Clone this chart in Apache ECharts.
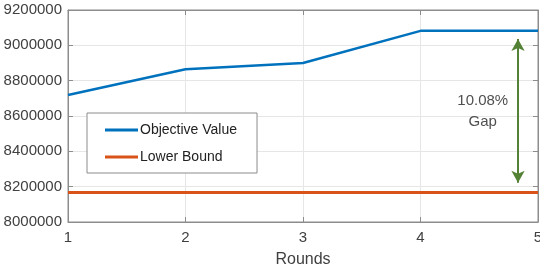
<!DOCTYPE html>
<html><head><meta charset="utf-8">
<script src="https://cdn.jsdelivr.net/npm/echarts@6/dist/echarts.min.js"></script>
<style>html,body{margin:0;padding:0;background:#fff}#c{width:540px;height:269px}</style>
</head><body><div id="c"></div>
<script>
const rounds = [1, 2, 3, 4, 5];
const objectiveValue = [8719000, 8865000, 8900000, 9082000, 9082000];
const lowerBound = [8166500, 8166500, 8166500, 8166500, 8166500];
const gapArrow = [[4.83, 9036000], [4.83, 8222000]];
const gapLabel = { x: 4.53, y: 8628000, text: '10.08%\nGap' };
const yTicks = { min: 8000000, max: 9200000, step: 200000 };

const font = 'Liberation Sans, Arial, sans-serif';
const chart = echarts.init(document.getElementById('c'));
const axisLine = { show: true, lineStyle: { color: '#8c8c8c', width: 1 } };
chart.setOption({
  animation: false,
  grid: { left: 68, right: 2, top: 10, bottom: 47, show: true, borderColor: '#8c8c8c', borderWidth: 1,
          containLabel: false, outerBoundsMode: 'none' },
  xAxis: [{
    type: 'value', min: 1, max: 5, interval: 1,
    name: 'Rounds', nameLocation: 'middle', nameGap: 30,
    nameTextStyle: { fontFamily: font, fontSize: 16, color: '#404040' },
    axisLine, axisTick: { inside: true, length: 5, lineStyle: { color: '#8c8c8c' } },
    axisLabel: { fontFamily: font, fontSize: 15, color: '#404040', margin: 8, hideOverlap: false },
    splitLine: { show: true, lineStyle: { color: '#e6e6e6' } }
  }, {
    type: 'value', position: 'top', min: 1, max: 5, interval: 1,
    axisLine, axisTick: { inside: true, length: 5, lineStyle: { color: '#8c8c8c' } },
    axisLabel: { show: false }, splitLine: { show: false }
  }],
  yAxis: [{
    type: 'value', min: yTicks.min, max: yTicks.max, interval: yTicks.step,
    axisLine, axisTick: { show: true, inside: true, length: 5, lineStyle: { color: '#8c8c8c' } },
    axisLabel: { fontFamily: font, fontSize: 15, color: '#404040', margin: 6, formatter: v => String(v) },
    splitLine: { show: true, lineStyle: { color: '#e6e6e6' } }
  }, {
    type: 'value', position: 'right', min: yTicks.min, max: yTicks.max, interval: yTicks.step,
    axisLine, axisTick: { show: true, inside: true, length: 5, lineStyle: { color: '#8c8c8c' } },
    axisLabel: { show: false }, splitLine: { show: false }
  }],
  legend: {
    orient: 'vertical', left: 87, top: 113,
    padding: [10, 20, 9, 18], itemGap: 13,
    borderColor: '#8c8c8c', borderWidth: 1, backgroundColor: '#fff',
    itemWidth: 33, itemHeight: 3,
    icon: 'path://M0,0 L33,0 L33,3 L0,3 Z',
    textStyle: { fontFamily: font, fontSize: 14, color: '#222', padding: [0, 0, 0, -3] },
    data: ['Objective Value', 'Lower Bound']
  },
  series: [{
    name: 'Objective Value', type: 'line', showSymbol: false, symbol: 'none',
    data: rounds.map((r, i) => [r, objectiveValue[i]]),
    lineStyle: { color: '#0072BD', width: 2.5 }, itemStyle: { color: '#0072BD' }, z: 3
  }, {
    name: 'Lower Bound', type: 'line', showSymbol: false, symbol: 'none',
    data: rounds.map((r, i) => [r, lowerBound[i]]),
    lineStyle: { color: '#D95319', width: 3 }, itemStyle: { color: '#D95319' }, z: 3,
    markLine: {
      silent: true, symbol: ['arrow', 'arrow'], symbolSize: [10, 12],
      label: { show: false },
      lineStyle: { color: '#548235', width: 2, type: 'solid' },
      data: [[{ coord: gapArrow[0] }, { coord: gapArrow[1] }]]
    }
  }, {
    name: 'gap', type: 'scatter', symbolSize: 0,
    data: [[gapLabel.x, gapLabel.y]],
    label: { show: true, position: 'inside', formatter: gapLabel.text,
      fontFamily: font, fontSize: 15, color: '#222', lineHeight: 21, align: 'center' },
    silent: true
  }]
});
</script></body></html>
